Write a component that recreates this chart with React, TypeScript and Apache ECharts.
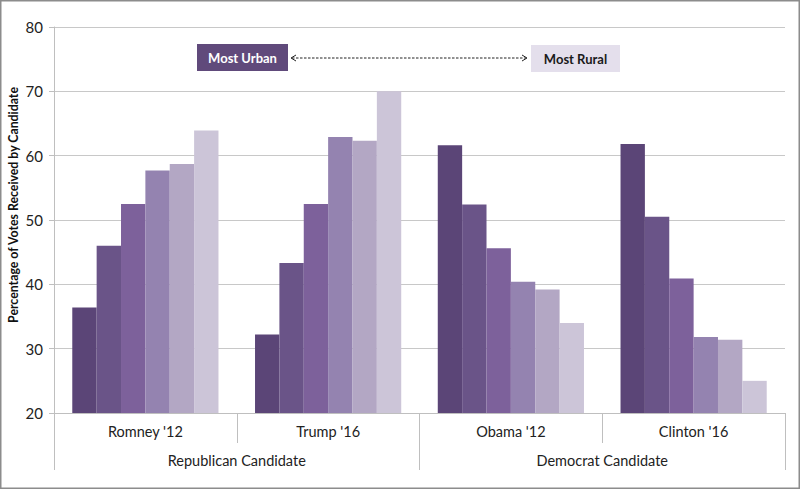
import React, { useEffect, useRef } from "react";
import * as echarts from "echarts";

const candidates = ["Romney '12", "Trump '16", "Obama '12", "Clinton '16"];
const parties = ["Republican Candidate", "Democrat Candidate"];
const seriesNames = ["Most Urban", "Urban 2", "Urban 3", "Rural 3", "Rural 2", "Most Rural"];
const seriesValues: number[][] = [
  [36.4, 32.2, 61.6, 61.8],
  [46.0, 43.3, 52.4, 50.5],
  [52.5, 52.5, 45.6, 40.9],
  [57.7, 62.9, 40.4, 31.8],
  [58.7, 62.3, 39.2, 31.4],
  [63.9, 70.0, 34.0, 25.0],
];
const barColors = ["#5B4577", "#6A5488", "#7D619B", "#9483B0", "#B3A7C4", "#CCC5D8"];
const yTicks = { min: 20, max: 80, interval: 10 };
const yTitle = "Percentage of Votes Received by Candidate";

const FONT = "Lato, 'Open Sans', sans-serif";

export default function App() {
  const ref = useRef<HTMLDivElement>(null);
  useEffect(() => {
    if (!ref.current) return;
    const chart = echarts.init(ref.current, null, { renderer: "svg" });
    chart.setOption({
      animation: false,
      backgroundColor: "#ffffff",
      textStyle: { fontFamily: FONT },
      grid: {
        left: 54,
        right: 15,
        top: 27,
        bottom: 76,
        containLabel: false,
        outerBoundsMode: "none",
      },
      xAxis: [
        {
          type: "category",
          data: candidates,
          position: "bottom",
          axisLine: { show: true, lineStyle: { color: "#BFBFBF", width: 1 } },
          axisTick: { show: true, length: 30, lineStyle: { color: "#BFBFBF" } },
          axisLabel: { color: "#222", fontSize: 14.5, margin: 11, fontFamily: FONT },
          splitLine: { show: false },
        },
        {
          type: "category",
          data: parties,
          position: "bottom",
          axisLine: { show: false },
          axisTick: { show: true, length: 57, lineStyle: { color: "#BFBFBF" } },
          axisLabel: { color: "#222", fontSize: 14.5, margin: 40, fontFamily: FONT },
          splitLine: { show: false },
        },
      ],
      yAxis: {
        type: "value",
        min: yTicks.min,
        max: yTicks.max,
        interval: yTicks.interval,
        axisLine: { show: true, lineStyle: { color: "#BFBFBF" } },
        axisTick: { show: true, length: 5, lineStyle: { color: "#BFBFBF" } },
        axisLabel: { color: "#222", fontSize: 15, margin: 11, fontFamily: FONT },
        splitLine: { show: true, lineStyle: { color: "#C8C8C8", width: 1 } },
      },
      series: seriesValues.map((vals, i) => ({
        type: "bar",
        name: seriesNames[i],
        data: vals,
        xAxisIndex: 0,
        barGap: "0%",
        barCategoryGap: "20%",
        itemStyle: { color: barColors[i] },
      })),
      graphic: [
        {
          type: "rect",
          shape: { x: 0.75, y: 0.75, width: 798.5, height: 487.5 },
          style: { fill: "none", stroke: "#8C8C8C", lineWidth: 1.5 },
          z: 100,
        },
        {
          type: "text",
          x: 13,
          y: 205,
          rotation: Math.PI / 2,
          style: {
            text: yTitle,
            fill: "#111",
            font: `bold 12.3px ${FONT}`,
            align: "center",
            verticalAlign: "middle",
          },
        },
        {
          type: "rect",
          shape: { x: 197, y: 44, width: 91, height: 27 },
          style: { fill: "#604A7B" },
        },
        {
          type: "text",
          x: 242.5,
          y: 57.5,
          style: {
            text: "Most Urban",
            fill: "#ffffff",
            font: `bold 13px ${FONT}`,
            align: "center",
            verticalAlign: "middle",
          },
        },
        {
          type: "rect",
          shape: { x: 531, y: 45, width: 89, height: 27 },
          style: { fill: "#E4DFEC" },
        },
        {
          type: "text",
          x: 575.5,
          y: 58.5,
          style: {
            text: "Most Rural",
            fill: "#1a1a1a",
            font: `bold 13px ${FONT}`,
            align: "center",
            verticalAlign: "middle",
          },
        },
        {
          type: "line",
          shape: { x1: 292, y1: 58, x2: 526, y2: 58 },
          style: { stroke: "#222", lineWidth: 1, lineDash: [2.5, 1.5] },
        },
        {
          type: "polyline",
          shape: { points: [[296, 55], [291, 58], [296, 61]] },
          style: { stroke: "#222", lineWidth: 1, fill: "none" },
        },
        {
          type: "polyline",
          shape: { points: [[522, 55], [527, 58], [522, 61]] },
          style: { stroke: "#222", lineWidth: 1, fill: "none" },
        },
      ],
    });
    return () => chart.dispose();
  }, []);
  return (
    <div
      ref={ref}
      style={{ position: "fixed", left: 0, top: 0, width: 800, height: 489 }}
    />
  );
}
